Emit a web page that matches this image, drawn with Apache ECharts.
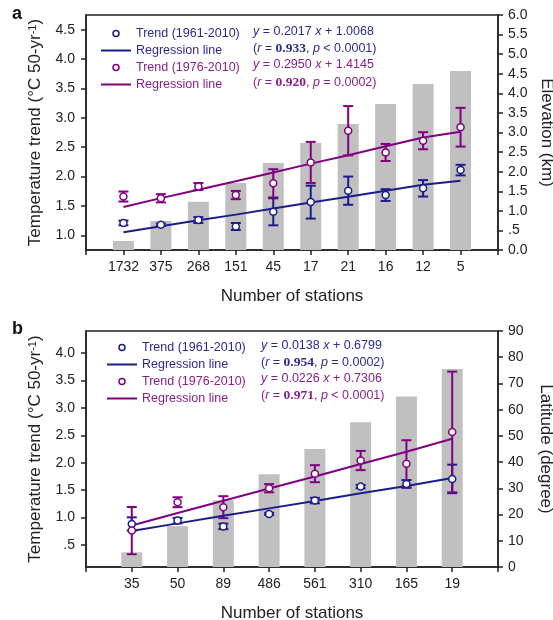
<!DOCTYPE html>
<html><head><meta charset="utf-8">
<script src="https://cdn.jsdelivr.net/npm/echarts@6/dist/echarts.min.js"></script>
<style>html,body{margin:0;padding:0;background:#fff}#c{width:553px;height:620px}</style>
</head><body><div id="c"></div>
<script>
// ---------- Panel a data ----------
const catsA = ['1732','375','268','151','45','17','21','16','12','5'];
const elevA = [0.23,0.74,1.23,1.71,2.22,2.73,3.22,3.73,4.24,4.57];          // km (right axis)
const trend1A = [1.21,1.18,1.26,1.15,1.40,1.565,1.76,1.685,1.80,2.11];      // 1961-2010
const err1A   = [0.04,0.02,0.05,0.06,0.23,0.28,0.24,0.10,0.14,0.09];
const trend2A = [1.66,1.63,1.83,1.685,1.885,2.24,2.78,2.41,2.61,2.84];      // 1976-2010
const err2A   = [0.085,0.07,0.06,0.07,0.24,0.35,0.42,0.145,0.145,0.33];
const reg1A = [1.053,1.156,1.255,1.352,1.455,1.557,1.656,1.759,1.862,1.929];
const reg2A = [1.482,1.633,1.777,1.919,2.069,2.220,2.364,2.515,2.665,2.763];
const leftTicksA = [1.0,1.5,2.0,2.5,3.0,3.5,4.0,4.5];
const eqA = ['{i|y} = 0.2017 {i|x} + 1.0068','({i|r} = {b|0.933}, {i|p} < 0.0001)','{i|y} = 0.2950 {i|x} + 1.4145','({i|r} = {b|0.920}, {i|p} = 0.0002)'];

// ---------- Panel b data ----------
const catsB = ['35','50','89','486','561','310','165','19'];
const latB = [5.6,15.6,25.5,35.4,45.0,55.2,65.0,75.5];                       // degree (right axis)
const trend1B = [0.885,0.945,0.84,1.067,1.31,1.565,1.614,1.705];
const err1B   = [0.12,0.05,0.05,0.02,0.05,0.03,0.07,0.26];
const trend2B = [0.763,1.28,1.19,1.535,1.80,2.04,1.98,2.56];
const err2B   = [0.43,0.09,0.20,0.075,0.155,0.175,0.43,1.10];
const reg1B = [0.757,0.895,1.032,1.168,1.301,1.442,1.577,1.722];
const reg2B = [0.857,1.083,1.307,1.531,1.748,1.978,2.200,2.437];
const leftTicksB = [0.5,1.0,1.5,2.0,2.5,3.0,3.5,4.0];
const eqB = ['{i|y} = 0.0138 {i|x} + 0.6799','({i|r} = {b|0.954}, {i|p} = 0.0002)','{i|y} = 0.0226 {i|x} + 0.7306','({i|r} = {b|0.971}, {i|p} < 0.0001)'];

const BLUE='#1c1c8c', PURPLE='#800080', BTXT='#2a2a92', PTXT='#8a1e8a', AX='#222', GRAY='#c0c0c0';
const FONT='"Liberation Sans", Arial, sans-serif';

function pad(c){ return [' '].concat(c, ['  ']); }
function pts(arr){ return arr.map((v,i)=>[i+1, v]); }
function errs(v,e){ return v.map((x,i)=>[i+1, x-e[i], x+e[i]]); }
function lbl(v){ return (Math.abs(v-0.5)<1e-9) ? '.5' : v.toFixed(1); }

function errSeries(gi, data, color){
  return {type:'custom', xAxisIndex:gi, yAxisIndex:gi*2, data, z:3, silent:true,
    encode:{x:0, y:[1,2]},
    renderItem:(p,api)=>{
      const x=api.value(0);
      const a=api.coord([x, api.value(2)]), b=api.coord([x, api.value(1)]);
      const w=5, st={stroke:color, lineWidth:2};
      return {type:'group', children:[
        {type:'line', shape:{x1:a[0],y1:a[1],x2:b[0],y2:b[1]}, style:st},
        {type:'line', shape:{x1:a[0]-w,y1:a[1],x2:a[0]+w,y2:a[1]}, style:st},
        {type:'line', shape:{x1:b[0]-w,y1:b[1],x2:b[0]+w,y2:b[1]}, style:st}
      ]};
    }};
}
function panelSeries(gi, bars, t1, e1, t2, e2, r1, r2){
  return [
    {type:'bar', xAxisIndex:gi, yAxisIndex:gi*2+1, data:pts(bars), barWidth:21, itemStyle:{color:GRAY}, z:1, silent:true},
    errSeries(gi, errs(t1,e1), BLUE),
    errSeries(gi, errs(t2,e2), PURPLE),
    {name:'Regression line (1961-2010)', type:'line', xAxisIndex:gi, yAxisIndex:gi*2, data:pts(r1), symbol:'none', lineStyle:{color:BLUE, width:2}, itemStyle:{color:BLUE}, z:4, silent:true},
    {name:'Regression line (1976-2010)', type:'line', xAxisIndex:gi, yAxisIndex:gi*2, data:pts(r2), symbol:'none', lineStyle:{color:PURPLE, width:2}, itemStyle:{color:PURPLE}, z:4, silent:true},
    {name:'Trend (1961-2010)', type:'scatter', xAxisIndex:gi, yAxisIndex:gi*2, data:pts(t1), symbol:'circle', symbolSize:7, itemStyle:{color:'#fff', borderColor:BLUE, borderWidth:1.5, opacity:1}, z:5, silent:true},
    {name:'Trend (1976-2010)', type:'scatter', xAxisIndex:gi, yAxisIndex:gi*2, data:pts(t2), symbol:'circle', symbolSize:7, itemStyle:{color:'#fff', borderColor:PURPLE, borderWidth:1.5, opacity:1}, z:5, silent:true}
  ];
}
const NOSYM = {color:'rgba(0,0,0,0)', borderWidth:0, borderColor:'rgba(0,0,0,0)'};
function mkLegend(left, top){
  return {orient:'vertical', left, top, padding:0, itemWidth:30, itemHeight:6, itemGap:4, selectedMode:false,
    textStyle:{fontSize:12.5, fontFamily:FONT},
    formatter: n => n.indexOf('Regression')===0 ? 'Regression line' : n,
    data:[
      {name:'Trend (1961-2010)', icon:'circle', itemStyle:{color:'#fff', borderColor:BLUE, borderWidth:1.5}, textStyle:{color:BTXT}},
      {name:'Regression line (1961-2010)', itemStyle:NOSYM, lineStyle:{color:BLUE, width:2}, textStyle:{color:BTXT}},
      {name:'Trend (1976-2010)', icon:'circle', itemStyle:{color:'#fff', borderColor:PURPLE, borderWidth:1.5}, textStyle:{color:PTXT}},
      {name:'Regression line (1976-2010)', itemStyle:NOSYM, lineStyle:{color:PURPLE, width:2}, textStyle:{color:PTXT}}
    ]};
}
function xAx(gi, cats){
  return {gridIndex:gi, type:'category', data:pad(cats), boundaryGap:false,
    axisLine:{lineStyle:{color:AX, width:1.5}}, axisTick:{show:true, interval:0, length:5, lineStyle:{color:AX, width:1.5}},
    axisLabel:{interval:0, color:AX, fontSize:14, fontFamily:FONT, margin:10},
    name:'Number of stations', nameLocation:'middle', nameGap:38,
    nameTextStyle:{fontSize:17, color:AX, fontFamily:FONT}};
}
const nameT = 'Temperature trend (°C 50-yr{s|-1})';
function leftAx(gi, min, max, ticks){
  return {gridIndex:gi, type:'value', min, max, position:'left',
    axisLine:{show:true, lineStyle:{color:AX, width:1.5}},
    axisTick:{show:true, length:5, customValues:ticks, lineStyle:{color:AX, width:1.5}},
    axisLabel:{customValues:ticks, formatter:lbl, color:AX, fontSize:14, fontFamily:FONT, margin:11},
    splitLine:{show:false},
    name:nameT, nameLocation:'middle', nameGap:42,
    nameTextStyle:{fontSize:17, color:AX, fontFamily:FONT, rich:{s:{fontSize:11, verticalAlign:'top', color:AX, fontFamily:FONT}}}};
}
function rightAx(gi, min, max, interval, fmt, name){
  return {gridIndex:gi, type:'value', min, max, interval, position:'right',
    axisLine:{show:true, lineStyle:{color:AX, width:1.5}},
    axisTick:{show:true, length:5, lineStyle:{color:AX, width:1.5}},
    axisLabel:{formatter:fmt, color:AX, fontSize:14, fontFamily:FONT, margin:10},
    splitLine:{show:false},
    name, nameLocation:'middle', nameGap:39, nameRotate:-90,
    nameTextStyle:{fontSize:17, color:AX, fontFamily:FONT}};
}
function eqGraphics(lines, left, centers){
  return lines.map((t,k)=>({type:'text', left, top:centers[k]-8, z:10,
    style:{text:t, fill:(k<2?BTXT:PTXT), font:'12.5px '+FONT,
      rich:{i:{fontStyle:'italic', fill:(k<2?BTXT:PTXT), fontSize:12.5, fontFamily:FONT},
            b:{fontWeight:'bold', fill:(k<2?BTXT:PTXT), fontSize:13.5, fontFamily:'"Liberation Serif", "Times New Roman", serif'}}}}));
}

const chart = echarts.init(document.getElementById('c'), null, {renderer:'canvas'});
chart.setOption({
  animation:false,
  backgroundColor:'#fff',
  grid:[
    {left:86, top:15, width:412, height:235, show:true, borderColor:AX, borderWidth:1.5, backgroundColor:'transparent', outerBoundsMode:'none', containLabel:false},
    {left:86, top:331, width:412, height:236, show:true, borderColor:AX, borderWidth:1.5, backgroundColor:'transparent', outerBoundsMode:'none', containLabel:false}
  ],
  xAxis:[xAx(0, catsA), xAx(1, catsB)],
  yAxis:[
    leftAx(0, 0.75, 4.75, leftTicksA),
    rightAx(0, 0, 6, 0.5, lbl, 'Elevation (km)'),
    leftAx(1, 0.1, 4.4, leftTicksB),
    rightAx(1, 0, 90, 10, v=>String(v), 'Latitude (degree)')
  ],
  legend:[mkLegend(100, 27), mkLegend(106, 341)],
  series: panelSeries(0, elevA, trend1A, err1A, trend2A, err2A, reg1A, reg2A)
    .concat(panelSeries(1, latB, trend1B, err1B, trend2B, err2B, reg1B, reg2B)),
  graphic: [
    {type:'text', left:12, top:5, style:{text:'a', font:'bold 18px '+FONT, fill:'#111'}},
    {type:'text', left:12, top:320, style:{text:'b', font:'bold 18px '+FONT, fill:'#111'}}
  ].concat(eqGraphics(eqA, 253, [33,49.5,66.5,83.5]), eqGraphics(eqB, 261, [347,363.5,380,397]))
});
</script>
</body></html>
